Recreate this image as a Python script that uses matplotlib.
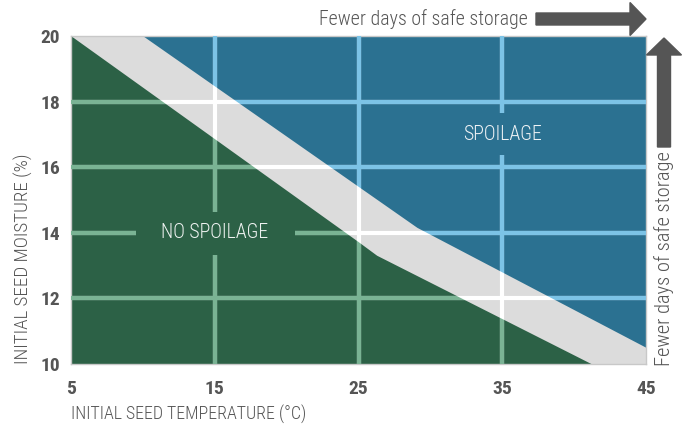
import matplotlib
matplotlib.use("Agg")
import matplotlib.pyplot as plt
from matplotlib.patches import Polygon, Rectangle, FancyArrow
from matplotlib.transforms import IdentityTransform

# ---- data ----
x_ticks = [5, 15, 25, 35, 45]
y_ticks = [10, 12, 14, 16, 18, 20]
grid_x = [15, 25, 35]
grid_y = [12, 14, 16, 18]
# no-spoilage upper boundary (temperature, moisture)
nospoil_temp = [5, 25.0, 26.3, 41.2]
nospoil_moist = [20, 13.72, 13.3, 10]
# spoilage lower boundary
spoil_temp = [10.0, 29.1, 45]
spoil_moist = [20, 14.15, 10.5]

GREEN = "#2c6146"
BLUE = "#2b7191"
GRAY = "#dcdcdc"
GGRID = "#7ab394"
BGRID = "#7cc3e6"
TXT = "#555555"

FONT = ["Roboto Condensed", "DejaVu Sans"]
plt.rcParams["font.family"] = FONT

fig = plt.figure(figsize=(6.86, 4.30), dpi=100)
ax = fig.add_axes([71/686, 1-364/430, (646-71)/686, (364-36)/430])
ax.set_xlim(5, 45)
ax.set_ylim(10, 20)
ax.set_facecolor(GRAY)

green_verts = list(zip(nospoil_temp, nospoil_moist)) + [(5, 10)]
blue_verts = list(zip(spoil_temp, spoil_moist)) + [(45, 20)]
gpoly = Polygon(green_verts, closed=True, facecolor=GREEN, edgecolor="none", zorder=1)
bpoly = Polygon(blue_verts, closed=True, facecolor=BLUE, edgecolor="none", zorder=1)
ax.add_patch(gpoly)
ax.add_patch(bpoly)

lw = 3
def draw_grid(color, clip=None, z=2):
    arts = []
    for gx in grid_x:
        arts += ax.plot([gx, gx], [10, 20], color=color, lw=lw, zorder=z, solid_capstyle="butt")
    for gy in grid_y:
        arts += ax.plot([5, 45], [gy, gy], color=color, lw=lw, zorder=z, solid_capstyle="butt")
    if clip is not None:
        for a in arts:
            a.set_clip_path(clip)

draw_grid("white", z=2)
gclip = Polygon(green_verts, closed=True, transform=ax.transData, facecolor="none", edgecolor="none")
bclip = Polygon(blue_verts, closed=True, transform=ax.transData, facecolor="none", edgecolor="none")
draw_grid(GGRID, gclip, z=3)
draw_grid(BGRID, bclip, z=3)

# gaps behind region labels
ax.add_patch(Rectangle((9.5, 13.32), 11.1, 1.31, facecolor=GREEN, edgecolor="none", zorder=4))
ax.add_patch(Rectangle((32.3, 16.37), 5.5, 1.28, facecolor=BLUE, edgecolor="none", zorder=4))
ax.text(15, 14, "NO SPOILAGE", color="#eef2f0", fontsize=14.3, fontweight="light",
        ha="center", va="center", zorder=5)
ax.text(35, 17.0, "SPOILAGE", color="#eef2f5", fontsize=14.3, fontweight="light",
        ha="center", va="center", zorder=5)

for s in ax.spines.values():
    s.set_color("#c8c8c8")
    s.set_linewidth(1)

ax.set_xticks(x_ticks)
ax.set_yticks(y_ticks)
ax.set_xticklabels([str(v) for v in x_ticks], fontweight="bold", fontsize=14, color=TXT)
ax.set_yticklabels([str(v) for v in y_ticks], fontweight="bold", fontsize=14, color=TXT)
ax.tick_params(axis="x", length=0, pad=11.5)
ax.tick_params(axis="y", length=0, pad=8)

fig.text(71/686, 1-414/430, "INITIAL SEED TEMPERATURE (°C)", fontsize=12.9, color=TXT,
         fontweight="light", ha="left", va="center")
fig.text(23/686, 1-364/430, "INITIAL SEED MOISTURE (%)", fontsize=13.7, color=TXT,
         fontweight="light", ha="center", va="bottom", rotation=90)

# arrows and annotations
fig.text(528/686, 1-19/430, "Fewer days of safe storage", fontsize=14.3, color=TXT,
         fontweight="light", ha="right", va="center")
fig.text(664/686, 1-366/430, "Fewer days of safe storage", fontsize=14.8, color=TXT,
         fontweight="light", ha="center", va="bottom", rotation=90)
fig.patches.append(FancyArrow(536, 430-19, 110, 0, width=12, head_width=33, head_length=16,
                              length_includes_head=True, color="#555555",
                              transform=IdentityTransform(), figure=fig))
fig.patches.append(FancyArrow(664, 430-147, 0, 109, width=13, head_width=35, head_length=17,
                              length_includes_head=True, color="#555555",
                              transform=IdentityTransform(), figure=fig))

fig.savefig("out.png", dpi=100)
